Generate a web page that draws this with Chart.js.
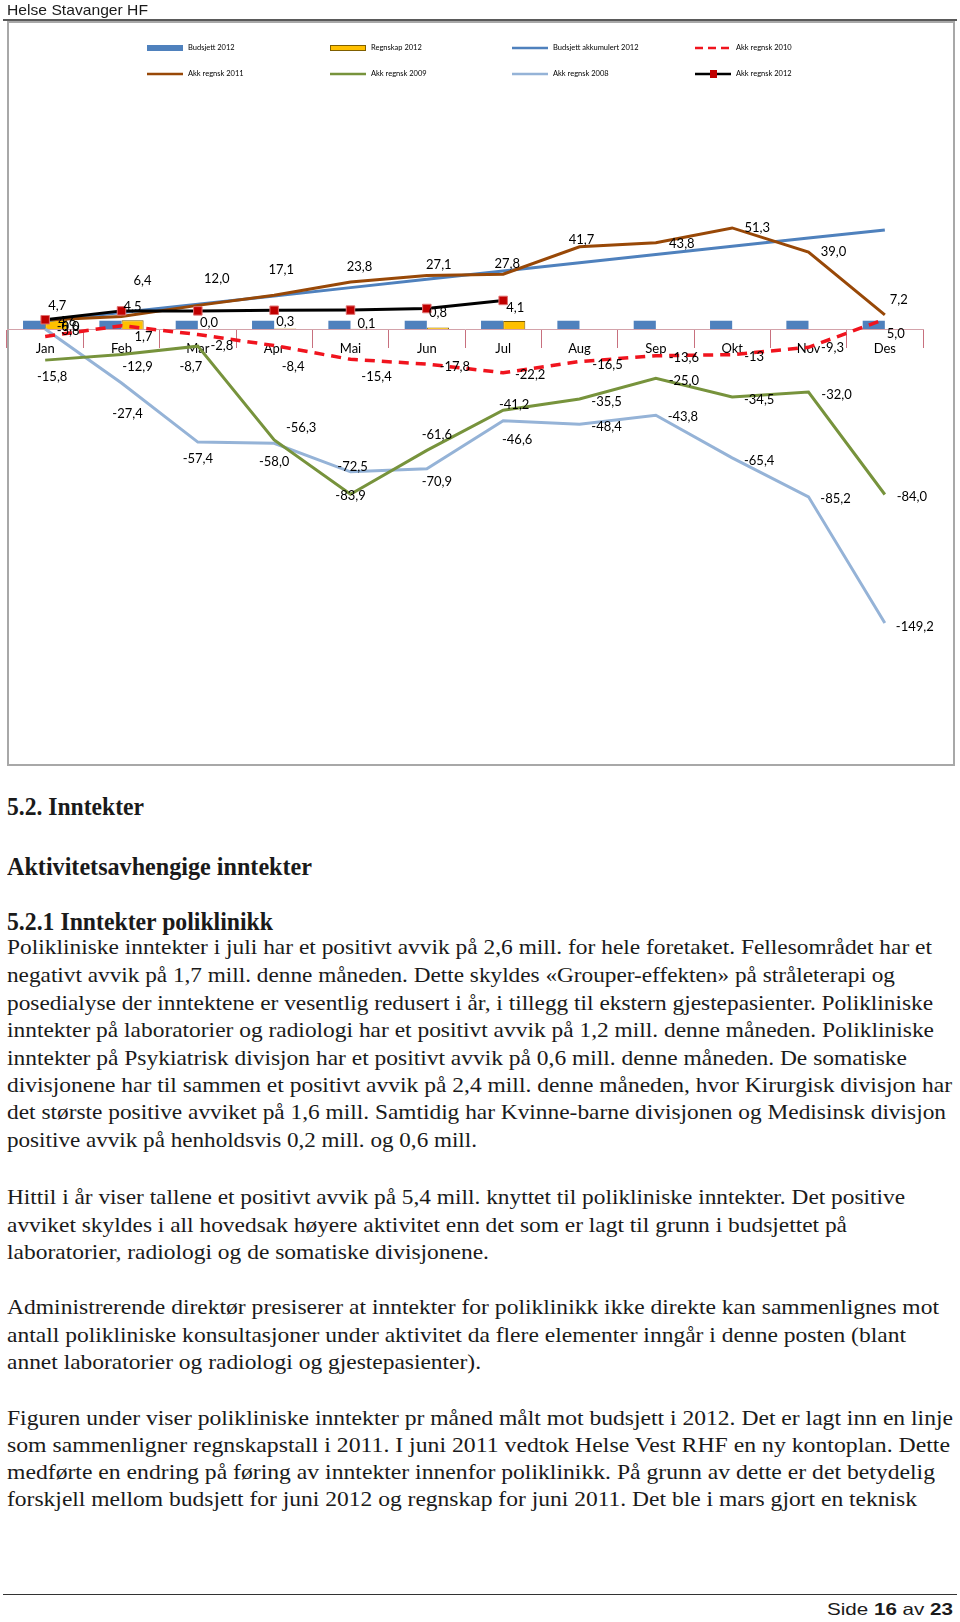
<!DOCTYPE html>
<html>
<head>
<meta charset="utf-8">
<script src="https://cdn.jsdelivr.net/npm/chart.js@4.4.0/dist/chart.umd.min.js"></script>
<style>
    body { margin: 0; background: #fff; width: 960px; height: 1622px; position: relative; overflow: hidden; }
    .ln { position: absolute; white-space: nowrap; transform-origin: 0 0; color: #1a1a1a; }
    .serif { font-family: "Liberation Serif", "DejaVu Serif", serif; }
    .sans { font-family: "Liberation Sans", Arial, sans-serif; }
    #hdrLine { position: absolute; left: 3px; top: 19px; width: 954px; height: 2px; background: #5a5a5a; }
    #frame { position: absolute; left: 7px; top: 21px; width: 948px; height: 745px; box-sizing: border-box; border: 2px solid #a8a8a8; }
    #chart { position: absolute; left: 0; top: 0; }
    #footLine { position: absolute; left: 3px; top: 1594px; width: 954px; height: 1px; background: #333; }
</style>
</head>
<body>
<div id="hdrLine"></div>
<div id="frame"></div>
<canvas id="chart" width="960" height="770"></canvas>
<div id="footLine"></div>
<div id="text"></div>

<script>
// chart data
var months = ['Jan', 'Feb', 'Mar', 'Apr', 'Mai', 'Jun', 'Jul', 'Aug', 'Sep', 'Okt', 'Nov', 'Des'];
var budsjett2012 = [4.2, 4.2, 4.2, 4.2, 4.2, 4.2, 4.2, 4.2, 4.2, 4.2, 4.2, 4.2];
var regnskap2012 = [4.7, 4.5, 0.0, 0.3, 0.1, 0.8, 4.1];
var budsjettAkk2012 = [4.2, 8.4, 12.6, 16.8, 21.0, 25.2, 29.4, 33.6, 37.8, 42.0, 46.2, 50.3];
var akkRegnsk2010 = [-3.8, 1.7, -2.8, -8.4, -15.4, -17.8, -22.2, -16.5, -13.6, -13.0, -9.3, 5.0];
var akkRegnsk2011 = [4.6, 6.4, 12.0, 17.1, 23.8, 27.1, 27.8, 41.7, 43.8, 51.3, 39.0, 7.2];
var akkRegnsk2009 = [-15.8, -12.9, -8.7, -56.3, -83.9, -61.6, -41.2, -35.5, -25.0, -34.5, -32.0, -84.0];
var akkRegnsk2008 = [-0.02, -27.4, -57.4, -58.0, -72.5, -70.9, -46.6, -48.4, -43.8, -65.4, -85.2, -149.2];
var akkRegnsk2012 = [4.7, 9.2, 9.2, 9.5, 9.6, 10.4, 14.5];

// where each data label sits relative to its point (dx, dy)
var offsRegnskap = [[1,-14],[0,-13],[0,-6],[0,-7],[5,-5],[0,-15],[1,-13]];
var offs2010 = [[23,-6],[22,11],[24,11],[19,21],[26,17],[28,3],[27,2],[28,3],[28,2],[22,2],[24,0],[11,15]];
var offs2011 = [[22,2],[21,-36],[19,-27],[7,-26],[9,-15],[12,-11],[4,-10],[2,-7],[26,1],[25,0],[25,0],[14,-15]];
var offs2009 = [[7,17],[16,12],[-7,21],[27,-12],[0,2],[10,-16],[11,-5],[27,3],[28,3],[27,3],[28,3],[27,2]];
var offs2008 = [[23,-2],[6,31],[0,17],[0,19],[2,-5],[10,13],[14,19],[27,2],[27,2],[27,3],[27,2],[30,4]];

function fmt(v){
    return v.toFixed(1).replace('.', ',');
}

// data labels
var pointLabels = {
    id: 'pointLabels',
    afterDatasetsDraw: function(chart){
        var ctx = chart.ctx;
        ctx.save();
        ctx.font = '13px Lato';
        ctx.fillStyle = '#000';
        ctx.textAlign = 'center';
        ctx.textBaseline = 'middle';
        chart.data.datasets.forEach(function(ds, di){
            if(!ds.labelOffsets) return;
            var meta = chart.getDatasetMeta(di);
            meta.data.forEach(function(el, i){
                var v = ds.data[i];
                if(v == null) return;
                var off = ds.labelOffsets[i];
                var txt = (ds.labelText && ds.labelText[i]) || fmt(v);
                ctx.fillText(txt, el.x + off[0], el.y + off[1]);
            });
        });
        ctx.restore();
    }
};

// legend in a 4 x 2 grid like the Excel one
var legendCols = [147, 330, 512, 695];
var legendRows = [48, 74];
var gridLegend = {
    id: 'gridLegend',
    afterDraw: function(chart){
        var ctx = chart.ctx;
        ctx.save();
        ctx.font = '7.5px Lato';
        ctx.textBaseline = 'middle';
        chart.data.datasets.forEach(function(ds, i){
            var x = legendCols[i % 4];
            var y = legendRows[Math.floor(i / 4)];
            if(ds.type == 'bar'){
                ctx.fillStyle = ds.backgroundColor;
                ctx.fillRect(x, y - 3, 36, 6);
                if(ds.borderWidth){
                    ctx.strokeStyle = ds.borderColor;
                    ctx.lineWidth = 1;
                    ctx.strokeRect(x + 0.5, y - 2.5, 35, 5);
                }
            } else {
                ctx.strokeStyle = ds.borderColor;
                ctx.lineWidth = 2.5;
                ctx.setLineDash(ds.borderDash ? [8, 5] : []);
                ctx.beginPath();
                ctx.moveTo(x, y);
                ctx.lineTo(x + 36, y);
                ctx.stroke();
                ctx.setLineDash([]);
                if(ds.pointRadius){
                    ctx.fillStyle = ds.pointBackgroundColor;
                    ctx.fillRect(x + 15, y - 4, 7, 8);
                }
            }
            ctx.fillStyle = '#000';
            ctx.fillText(ds.label, x + 41, y);
        });
        ctx.restore();
    }
};

var ctx = document.getElementById('chart').getContext('2d');

var myChart = new Chart(ctx, {
    type: 'bar',
    data: {
        labels: months,
        datasets: [{
            type: 'bar',
            label: 'Budsjett 2012',
            data: budsjett2012,
            backgroundColor: '#4f81bd',
            borderWidth: 0,
            order: 10
        }, {
            type: 'bar',
            label: 'Regnskap 2012',
            data: regnskap2012,
            backgroundColor: '#ffc000',
            borderColor: '#7f5f00',
            borderWidth: 1,
            order: 10,
            labelOffsets: offsRegnskap
        }, {
            type: 'line',
            label: 'Budsjett akkumulert 2012',
            data: budsjettAkk2012,
            borderColor: '#4f81bd',
            borderWidth: 3,
            pointRadius: 0,
            order: 5
        }, {
            type: 'line',
            label: 'Akk regnsk 2010',
            data: akkRegnsk2010,
            borderColor: '#f0141e',
            borderWidth: 3.5,
            borderDash: [10, 7],
            pointRadius: 0,
            order: 3,
            labelOffsets: offs2010,
            labelText: { 9: '-13' }
        }, {
            type: 'line',
            label: 'Akk regnsk 2011',
            data: akkRegnsk2011,
            borderColor: '#984807',
            borderWidth: 3,
            pointRadius: 0,
            order: 2,
            labelOffsets: offs2011
        }, {
            type: 'line',
            label: 'Akk regnsk 2009',
            data: akkRegnsk2009,
            borderColor: '#77933c',
            borderWidth: 3,
            pointRadius: 0,
            order: 6,
            labelOffsets: offs2009
        }, {
            type: 'line',
            label: 'Akk regnsk 2008',
            data: akkRegnsk2008,
            borderColor: '#95b3d7',
            borderWidth: 3,
            pointRadius: 0,
            order: 7,
            labelOffsets: offs2008
        }, {
            type: 'line',
            label: 'Akk regnsk 2012',
            data: akkRegnsk2012,
            borderColor: '#000',
            borderWidth: 3,
            pointStyle: 'rect',
            pointRadius: 6,
            pointBackgroundColor: '#c00000',
            pointBorderColor: '#e07070',
            pointBorderWidth: 1,
            order: 1
        }]
    },
    options: {
        responsive: false,
        animation: false,
        layout: { padding: { left: 7, right: 37, top: 132, bottom: 47 } },
        elements: { line: { tension: 0, fill: false } },
        datasets: { bar: { categoryPercentage: 0.58, barPercentage: 1.0 } },
        plugins: {
            legend: { display: false },
            tooltip: { enabled: false }
        },
        scales: {
            x: {
                position: { y: 0 },
                offset: true,
                grid: { drawOnChartArea: false, drawTicks: true, tickLength: 18, color: '#c8707e', lineWidth: 1, offset: true },
                border: { color: '#d3a2aa', width: 1 },
                ticks: { color: '#000', font: { family: 'Lato', size: 13 }, padding: -6, maxRotation: 0, autoSkip: false }
            },
            y: {
                display: false,
                min: -200,
                max: 100
            }
        }
    },
    plugins: [pointLabels, gridLegend]
});

// page text, one line each: text, baseline, right edge, class, size
var lines = [
    ['Helse Stavanger HF', 15, 148, 'sans', 15, false],
    ['5.2. Inntekter', 815, 144, 'serif', 25, true],
    ['Aktivitetsavhengige inntekter', 875, 312, 'serif', 25, true],
    ['5.2.1 Inntekter poliklinikk', 930, 273, 'serif', 25, true],
    ['Polikliniske inntekter i juli har et positivt avvik på 2,6 mill. for hele foretaket. Fellesområdet har et', 955, 932],
    ['negativt avvik på 1,7 mill. denne måneden. Dette skyldes «Grouper-effekten» på stråleterapi og', 983, 895],
    ['posedialyse der inntektene er vesentlig redusert i år, i tillegg til ekstern gjestepasienter. Polikliniske', 1011, 933],
    ['inntekter på laboratorier og radiologi har et positivt avvik på 1,2 mill. denne måneden. Polikliniske', 1038, 934],
    ['inntekter på Psykiatrisk divisjon har et positivt avvik på 0,6 mill. denne måneden. De somatiske', 1066, 907],
    ['divisjonene har til sammen et positivt avvik på 2,4 mill. denne måneden, hvor Kirurgisk divisjon har', 1093, 952],
    ['det største positive avviket på 1,6 mill. Samtidig har Kvinne-barne divisjonen og Medisinsk divisjon', 1120, 946],
    ['positive avvik på henholdsvis 0,2 mill. og 0,6 mill.', 1148, 477],
    ['Hittil i år viser tallene et positivt avvik på 5,4 mill. knyttet til polikliniske inntekter. Det positive', 1205, 905],
    ['avviket skyldes i all hovedsak høyere aktivitet enn det som er lagt til grunn i budsjettet på', 1233, 847],
    ['laboratorier, radiologi og de somatiske divisjonene.', 1260, 489],
    ['Administrerende direktør presiserer at inntekter for poliklinikk ikke direkte kan sammenlignes mot', 1315, 939],
    ['antall polikliniske konsultasjoner under aktivitet da flere elementer inngår i denne posten (blant', 1343, 906],
    ['annet laboratorier og radiologi og gjestepasienter).', 1370, 481],
    ['Figuren under viser polikliniske inntekter pr måned målt mot budsjett i 2012. Det er lagt inn en linje', 1426, 953],
    ['som sammenligner regnskapstall i 2011. I juni 2011 vedtok Helse Vest RHF en ny kontoplan. Dette', 1453, 950],
    ['medførte en endring på føring av inntekter innenfor poliklinikk. På grunn av dette er det betydelig', 1480, 935],
    ['forskjell mellom budsjett for juni 2012 og regnskap for juni 2011. Det ble i mars gjort en teknisk', 1507, 917]
];

var holder = document.getElementById('text');

function addLine(html, baseline, left, right, cls, size, bold){
    var d = document.createElement('div');
    d.className = 'ln ' + cls;
    d.innerHTML = html;
    d.style.fontSize = size + 'px';
    d.style.lineHeight = size + 'px';
    if(bold) d.style.fontWeight = 'bold';
    var asc = cls == 'sans' ? 0.8465 : 0.8375;
    d.style.top = (baseline - asc * size) + 'px';
    d.style.left = left + 'px';
    holder.appendChild(d);
    var w = d.getBoundingClientRect().width;
    d.style.transform = 'scaleX(' + ((right - left) / w) + ')';
    return d;
}

lines.forEach(function(l){
    addLine(l[0], l[1], 7, l[2], l[3] || 'serif', l[4] || 21, l[5]);
});

// footer, right aligned
addLine('Side <b>16</b> av <b>23</b>', 1615, 827, 953, 'sans', 16.5, false);
</script>
</body>
</html>
